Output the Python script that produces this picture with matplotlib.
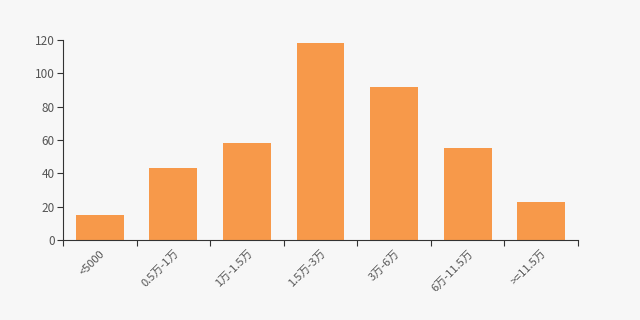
import matplotlib.pyplot as plt
import numpy as np

plt.rcParams['font.family'] = ['Noto Sans CJK SC', 'DejaVu Sans']

# 收入区间分布
categories = ["<5000", "0.5万-1万", "1万-1.5万", "1.5万-3万", "3万-6万", "6万-11.5万", ">=11.5万"]
counts = [15, 43, 58, 118, 92, 55, 23]

bg = "#f7f7f7"
bar_color = "#f7994a"
axis_color = "#333333"
text_color = "#555555"

fig = plt.figure(figsize=(6.4, 3.2), dpi=100, facecolor=bg)
ax = fig.add_axes([0.0984, 0.25, 0.8047, 0.625], facecolor=bg)

x = np.arange(len(categories))
ax.bar(x, counts, width=0.65, color=bar_color, zorder=2)

ax.set_xlim(-0.5, len(categories) - 0.5)
ax.set_ylim(0, 120)
ax.set_yticks([0, 20, 40, 60, 80, 100, 120])

# ticks sit on the category boundaries, labels in the middle
ax.set_xticks(np.arange(len(categories) + 1) - 0.5)
ax.set_xticklabels([])
ax.set_xticks(x, minor=True)
ax.set_xticklabels(categories, minor=True, rotation=45, ha="right",
                   rotation_mode="anchor", fontsize=8, color=text_color)
ax.tick_params(axis="x", which="minor", length=0, pad=6)
ax.tick_params(axis="x", which="major", length=4, width=0.8, color=axis_color)
ax.tick_params(axis="y", length=4, width=0.8, color=axis_color,
               labelsize=8.5, labelcolor=text_color, pad=2)

for side in ["top", "right"]:
    ax.spines[side].set_visible(False)
for side in ["left", "bottom"]:
    ax.spines[side].set_color(axis_color)
    ax.spines[side].set_linewidth(0.8)

fig.savefig("out.png", dpi=100, facecolor=bg)
